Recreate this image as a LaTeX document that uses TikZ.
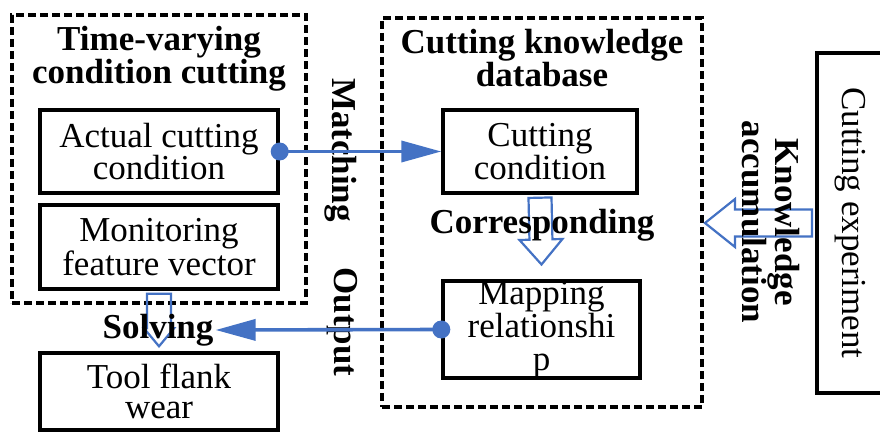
\documentclass[tikz,border=0pt]{standalone}
\usepackage{fontspec}
\setmainfont{Liberation Serif}
\usetikzlibrary{arrows.meta,calc}

\definecolor{flowblue}{HTML}{4472C4}
\newcommand\regtext{\fontsize{35}{29.5}\selectfont}
\newcommand\boldtext{\fontsize{35}{30}\selectfont\bfseries}

% hollow block arrow: #1 start, #2 tip, #3 shaft half width, #4 head half width, #5 head length
\newcommand\hollowarrow[5]{%
  \coordinate (hb) at ($(#2)!#5!(#1)$);
  \draw[hollow]
    ($(#1)!#3!90:(#2)$) -- ($(hb)!#3!-90:(#1)$) -- ($(hb)!#4!-90:(#1)$) -- (#2)
    -- ($(hb)!#4!90:(#1)$) -- ($(hb)!#3!90:(#1)$) -- ($(#1)!#3!-90:(#2)$) -- cycle;
}

\tikzset{
  box/.style={draw, line width=3.4pt, inner sep=0pt, align=center, font=\regtext},
  group/.style={draw, line width=3.2pt, dash pattern=on 8pt off 4pt, inner sep=0pt},
  title/.style={align=center, font=\boldtext, inner sep=1pt},
  flowlabel/.style={font=\boldtext, inner sep=2pt, align=center},
  flow/.style={flowblue, line width=3.6pt, -{Triangle[length=40pt,width=21pt]}},
  hollow/.style={draw=flowblue, line width=2.2pt, line join=miter},
}

\begin{document}
\begin{tikzpicture}[x=1pt,y=-1pt]
\clip (0,0) rectangle (880,433);
\fill[white] (0,0) rectangle (880,433);

% groups
\node[group, minimum width=294pt, minimum height=288pt] (tvgroup) at (159,159) {};
\node[group, minimum width=320pt, minimum height=389pt] (kdb) at (542,212.5) {};

\node[title] (tvtitle) at (159,59) {Time-varying\\condition cutting};
\node[title] (kdbtitle) at (542,58) {Cutting knowledge\\database};

% boxes
\node[box, minimum width=238pt, minimum height=83pt] (actual) at (159,151.5) {Actual cutting\\condition};
\node[box, minimum width=238pt, minimum height=84pt] (monitor) at (159,247) {Monitoring\\feature vector};
\node[box, minimum width=238pt, minimum height=77pt] (tool) at (159,391.5) {Tool flank\\wear};
\node[box, minimum width=194pt, minimum height=83pt] (cutcond) at (540,151.5) {Cutting\\condition};
\node[box, minimum width=197pt, minimum height=85pt, font=\fontsize{35}{33}\selectfont] (mapping) at (541.5,329.5) {Mapping\\relationshi\\p};
\node[box, minimum width=66pt, minimum height=340pt] (experiment) at (850,223) {\rotatebox{-90}{Cutting experiment}};

% hollow arrows
\hollowarrow{$(monitor.south)+(0,3)$}{$(tool.north)+(0,-5)$}{12pt}{15pt}{18pt}
\hollowarrow{$(cutcond.south)+(0,3)$}{$(mapping.north)+(0,-15)$}{11.5pt}{21.5pt}{25pt}
\coordinate (kstart) at (812,223);
\coordinate (ktip) at (705,223);
\hollowarrow{kstart}{ktip}{13.5pt}{24pt}{30pt}

% labels
\node[flowlabel] (solving) at (158,330) {Solving};
\node[flowlabel] (corresponding) at (542,225) {Corresponding};
\node[flowlabel, rotate=-90] (matching) at (341,150) {Matching};
\node[flowlabel, rotate=-90] (output) at (342,322) {Output};
\node[flowlabel, rotate=-90, font=\fontsize{35}{31}\selectfont\bfseries] (knowledge) at (771,222) {Knowledge\\accumulation};

% blue connectors
\fill[flowblue] (actual.east) circle (9pt);
\draw[flow] (actual.east) -- (cutcond.west);
\fill[flowblue] (mapping.west) circle (9pt);
\draw[flow] (mapping.west) -- (solving.east);
\end{tikzpicture}
\end{document}
